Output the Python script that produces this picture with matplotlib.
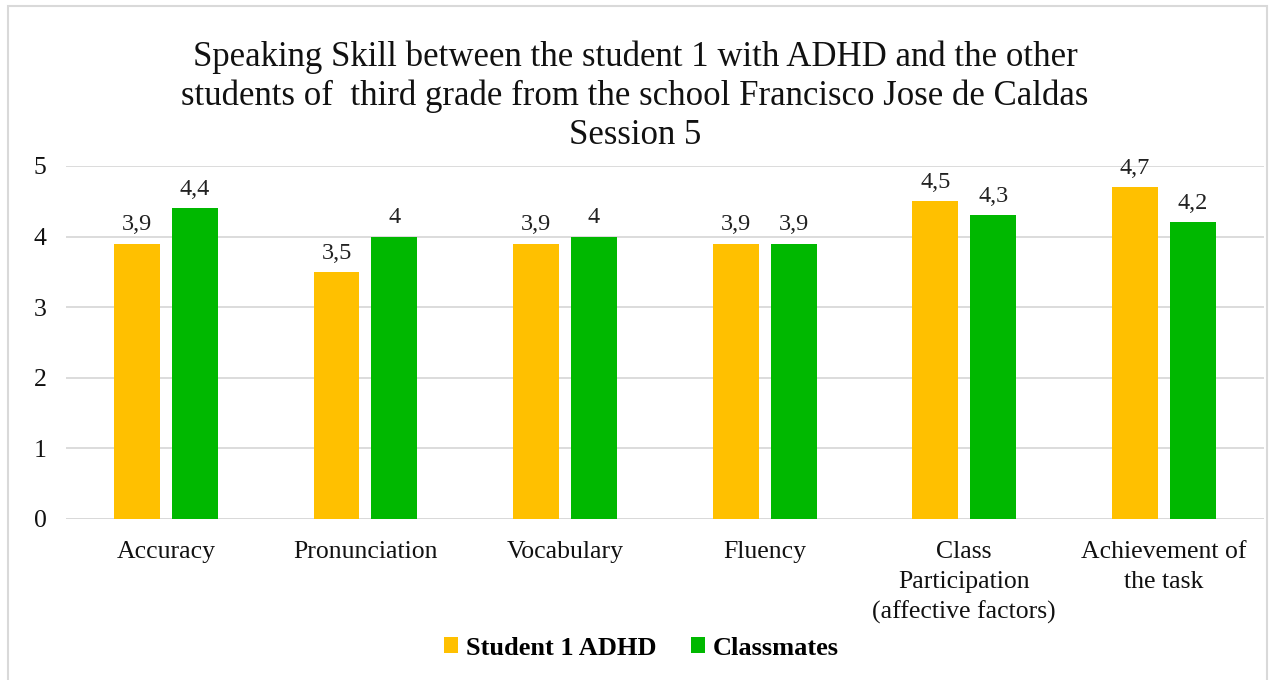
import matplotlib.pyplot as plt
import numpy as np
from matplotlib.patches import Rectangle

# Data
categories = ['Accuracy', 'Pronunciation', 'Vocabulary', 'Fluency',
              'Class\nParticipation\n(affective factors)', 'Achievement of\nthe task']
student = [3.9, 3.5, 3.9, 3.9, 4.5, 4.7]
classmates = [4.4, 4.0, 4.0, 3.9, 4.3, 4.2]
series_names = ['Student 1 ADHD', 'Classmates']

plt.rcParams['font.family'] = ['Liberation Serif', 'DejaVu Serif']

fig = plt.figure(figsize=(12.7, 6.8), dpi=100)
ax = fig.add_axes([0.052, 0.2368, 0.943, 0.5192])

# light border around the chart
fig.patches.append(Rectangle((0.0065, -0.01), 0.991, 1.001, transform=fig.transFigure,
                             fill=False, edgecolor='#d9d9d9', linewidth=1.5))

x = np.arange(len(categories))
w = 0.23
gap = 0.06
b1 = ax.bar(x - (w + gap) / 2, student, w, color='#FFC000', label=series_names[0], zorder=3)
b2 = ax.bar(x + (w + gap) / 2, classmates, w, color='#00B800', label=series_names[1], zorder=3)

def fmt(v):
    s = ('%.1f' % v).rstrip('0').rstrip('.')
    return s.replace('.', ',')

for bars, vals in ((b1, student), (b2, classmates)):
    for rect, v in zip(bars, vals):
        ax.annotate(fmt(v), (rect.get_x() + rect.get_width() / 2, v),
                    xytext=(0, 6), textcoords='offset points',
                    ha='center', va='bottom', fontsize=17.5, color='#222222')

ax.set_xlim(-0.5, len(categories) - 0.5)
ax.set_ylim(0, 5)
ax.set_yticks(range(6))
ax.yaxis.grid(True, color='#d9d9d9', linewidth=1.3, zorder=0)
for s in ax.spines.values():
    s.set_visible(False)
ax.tick_params(length=0, labelsize=18.5, colors='#111111')
ax.tick_params(axis='y', pad=14)
ax.tick_params(axis='x', pad=16)
ax.set_xticks(x)
ax.set_xticklabels(categories, linespacing=1.45)
ax.axhline(0, color='#d9d9d9', linewidth=1.3, zorder=2)

fig.text(0.5, 0.94, 'Speaking Skill between the student 1 with ADHD and the other\n'
         'students of  third grade from the school Francisco Jose de Caldas\nSession 5',
         ha='center', va='top', fontsize=25, linespacing=1.22, color='#111111')

fig.legend(handles=[b1, b2], loc='center', bbox_to_anchor=(0.505, 0.047), ncol=2,
           frameon=False, prop={'weight': 'bold', 'size': 19},
           handlelength=0.55, handleheight=0.55, handletextpad=0.3, columnspacing=1.3)

fig.savefig('out.png', dpi=100)
